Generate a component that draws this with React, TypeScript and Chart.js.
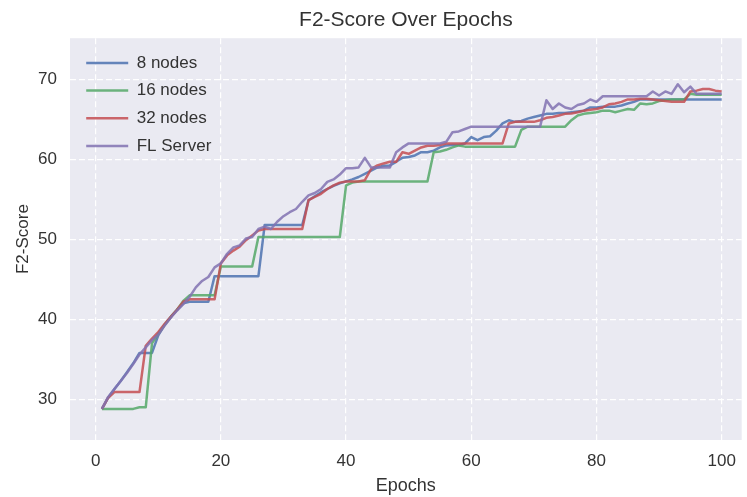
import React, { useEffect, useRef } from "react";
import { Chart, registerables } from "chart.js";

Chart.register(...registerables);

// ---------- data ----------
const EPOCHS: number[] = Array.from({ length: 100 }, (_, i) => i + 1);

const SERIES_NAMES = ["8 nodes", "16 nodes", "32 nodes", "FL Server"];

const NODES_8 = [
  28.8, 30.2, 31.3, 32.3, 33.4, 34.5, 35.8, 35.8, 35.8, 38.0,
  39.3, 40.3, 41.2, 42.0, 42.2, 42.2, 42.2, 42.2, 45.4, 45.4,
  45.4, 45.4, 45.4, 45.4, 45.4, 45.4, 51.8, 51.8, 51.8, 51.8,
  51.8, 51.8, 51.8, 54.9, 55.4, 55.9, 56.3, 56.7, 57.0, 57.25,
  57.5, 57.8, 58.2, 58.6, 59.0, 59.2, 59.25, 59.7, 60.2, 60.3,
  60.5, 60.9, 60.9, 61.1, 61.5, 61.75, 61.8, 61.8, 62.0, 62.8,
  62.4, 62.8, 62.9, 63.6, 64.5, 64.9, 64.7, 64.8, 65.1, 65.3,
  65.5, 65.7, 65.7, 65.8, 65.8, 65.9, 66.0, 66.1, 66.5, 66.5,
  66.6, 66.6, 66.6, 66.75, 67.0, 67.2, 67.5, 67.5, 67.5, 67.5,
  67.5, 67.5, 67.5, 67.5, 67.5, 67.5, 67.5, 67.5, 67.5, 67.5,
];

const NODES_16 = [
  28.8, 28.8, 28.8, 28.8, 28.8, 28.8, 29.0, 29.0, 37.0, 38.2,
  39.3, 40.3, 41.2, 42.3, 43.0, 43.0, 43.0, 43.0, 43.0, 46.6,
  46.6, 46.6, 46.6, 46.6, 46.6, 50.3, 50.3, 50.3, 50.3, 50.3,
  50.3, 50.3, 50.3, 50.3, 50.3, 50.3, 50.3, 50.3, 50.3, 56.75,
  57.1, 57.25, 57.25, 57.25, 57.25, 57.25, 57.25, 57.25, 57.25, 57.25,
  57.25, 57.25, 57.25, 60.9, 61.0, 61.2, 61.5, 61.75, 61.6, 61.6,
  61.6, 61.6, 61.6, 61.6, 61.6, 61.6, 61.6, 63.7, 64.1, 64.1,
  64.1, 64.1, 64.1, 64.1, 64.1, 64.9, 65.5, 65.7, 65.8, 65.9,
  66.1, 66.1, 65.9, 66.1, 66.3, 66.2, 67.0, 66.9, 67.0, 67.3,
  67.4, 67.5, 67.5, 67.5, 68.2, 68.1, 68.1, 68.1, 68.1, 68.1,
];

const NODES_32 = [
  28.8, 30.2, 30.9, 30.9, 30.9, 30.9, 30.9, 36.7, 37.6, 38.4,
  39.4, 40.3, 41.2, 42.2, 42.5, 42.5, 42.5, 42.5, 42.5, 47.0,
  48.0, 48.6, 49.1, 49.9, 50.5, 51.1, 51.3, 51.3, 51.3, 51.3,
  51.3, 51.3, 51.3, 54.9, 55.3, 55.7, 56.3, 56.75, 57.1, 57.25,
  57.25, 57.25, 57.4, 58.8, 59.25, 59.5, 59.7, 59.7, 60.9, 60.7,
  61.1, 61.5, 61.7, 61.7, 61.8, 62.0, 62.0, 62.0, 62.0, 62.0,
  62.0, 62.0, 62.0, 62.0, 62.0, 64.5, 64.7, 64.7, 64.7, 64.7,
  64.9, 65.2, 65.3, 65.5, 65.7, 65.75, 65.9, 66.1, 66.2, 66.3,
  66.5, 66.9, 67.0, 67.2, 67.5, 67.5, 67.6, 67.6, 67.5, 67.4,
  67.3, 67.2, 67.2, 67.2, 68.5, 68.6, 68.8, 68.8, 68.6, 68.5,
];

const FL_SERVER = [
  28.8, 30.3, 31.3, 32.3, 33.3, 34.4, 35.6, 36.5, 37.4, 38.1,
  39.2, 40.2, 41.1, 41.9, 42.8, 44.0, 44.8, 45.3, 46.5, 47.0,
  48.2, 49.0, 49.25, 50.1, 50.3, 51.3, 51.6, 51.3, 52.2, 52.9,
  53.4, 53.8, 54.7, 55.5, 55.8, 56.3, 57.2, 57.5, 58.1, 58.9,
  58.9, 59.0, 60.2, 59.0, 59.0, 59.0, 59.0, 60.9, 61.5, 62.0,
  62.0, 62.0, 62.0, 62.0, 62.0, 62.2, 63.4, 63.5, 63.8, 64.1,
  64.1, 64.1, 64.1, 64.1, 64.1, 64.1, 64.1, 64.1, 64.1, 64.1,
  64.1, 67.4, 66.3, 67.0, 66.5, 66.3, 66.8, 67.0, 67.5, 67.2,
  67.9, 67.9, 67.9, 67.9, 67.9, 67.9, 67.9, 67.9, 68.5, 68.0,
  68.5, 68.2, 69.4, 68.4, 69.1, 68.2, 68.2, 68.2, 68.2, 68.2,
];

const X_TICKS = [0, 20, 40, 60, 80, 100];
const Y_TICKS = [30, 40, 50, 60, 70];

// ---------- styling ----------
const COLORS = [
  "rgba(76,114,176,0.85)",
  "rgba(85,168,104,0.85)",
  "rgba(196,78,82,0.85)",
  "rgba(129,114,178,0.85)",
];
const FONT = "'Liberation Sans', Arial, Helvetica, sans-serif";
const TEXT = "#333333";
const PLOT_BG = "#EAEAF2";

const plotBackground = {
  id: "plotBackground",
  beforeDraw(chart: any) {
    const { ctx, chartArea: a } = chart;
    ctx.save();
    ctx.fillStyle = PLOT_BG;
    ctx.fillRect(a.left, a.top, a.right - a.left, a.bottom - a.top);
    ctx.restore();
  },
};

const legendPlacement = {
  id: "legendPlacement",
  afterLayout(chart: any) {
    const lg = chart.legend;
    const a = chart.chartArea;
    if (!lg || !a) return;
    const w = lg.right - lg.left;
    const h = a.bottom - a.top;
    lg.left = a.left + 5.5;
    lg.top = a.top + 5.5;
    lg.right = lg.left + w;
    lg.bottom = lg.top + h;
  },
};

export default function App() {
  const canvasRef = useRef<HTMLCanvasElement | null>(null);

  useEffect(() => {
    if (!canvasRef.current) return;
    const seriesValues = [NODES_8, NODES_16, NODES_32, FL_SERVER];
    const datasets = SERIES_NAMES.map((name, i) => ({
      label: name,
      data: EPOCHS.map((e, j) => ({ x: e, y: seriesValues[i][j] })),
      borderColor: COLORS[i],
      backgroundColor: COLORS[i],
      borderWidth: 2.5,
      pointRadius: 0,
      pointHoverRadius: 0,
      tension: 0,
      fill: false,
      borderJoinStyle: "round" as const,
      order: 3 - i,
    }));

    const chart = new Chart(canvasRef.current, {
      type: "line",
      data: { datasets },
      options: {
        animation: false,
        responsive: false,
        devicePixelRatio: 1,
        layout: { padding: 0 },
        scales: {
          x: {
            type: "linear",
            min: -4.1,
            max: 103.2,
            afterBuildTicks: (s: any) => {
              s.ticks = X_TICKS.map((v) => ({ value: v }));
            },
            afterFit: (s: any) => {
              s.height = 57;
            },
            grid: { color: "#ffffff", lineWidth: 1.2, drawTicks: false },
            border: { display: false, dash: [6, 3] },
            ticks: {
              color: TEXT,
              font: { family: FONT, size: 17 },
              padding: 11,
              maxRotation: 0,
            },
            title: {
              display: true,
              text: "Epochs",
              color: TEXT,
              font: { family: FONT, size: 18 },
              padding: { top: 0, bottom: 0 },
            },
          },
          y: {
            type: "linear",
            min: 24.91,
            max: 75.16,
            afterBuildTicks: (s: any) => {
              s.ticks = Y_TICKS.map((v) => ({ value: v }));
            },
            afterFit: (s: any) => {
              s.width = 70;
            },
            grid: { color: "#ffffff", lineWidth: 1.2, drawTicks: false },
            border: { display: false, dash: [6, 3] },
            ticks: {
              color: TEXT,
              font: { family: FONT, size: 17 },
              padding: 13,
            },
            title: {
              display: true,
              text: "F2-Score",
              color: TEXT,
              font: { family: FONT, size: 17 },
              padding: { top: 13, bottom: 0 },
            },
          },
        },
        plugins: {
          title: {
            display: true,
            text: "F2-Score Over Epochs",
            fullSize: false,
            color: TEXT,
            font: { family: FONT, size: 21, weight: "normal" },
            padding: { top: 8, bottom: 5 },
          },
          legend: {
            position: "chartArea",
            align: "start",
            labels: {
              usePointStyle: true,
              pointStyle: "line",
              pointStyleWidth: 42,
              color: TEXT,
              font: { family: FONT, size: 17 },
              padding: 10.7,
              sort: (a: any, b: any) => a.datasetIndex - b.datasetIndex,
            },
          },
          tooltip: { enabled: false },
        },
      },
      plugins: [plotBackground, legendPlacement],
    } as any);

    return () => chart.destroy();
  }, []);

  return (
    <div style={{ position: "absolute", left: 0, top: 0, width: 747, height: 497, background: "#ffffff" }}>
      <canvas ref={canvasRef} width={747} height={497} />
    </div>
  );
}
